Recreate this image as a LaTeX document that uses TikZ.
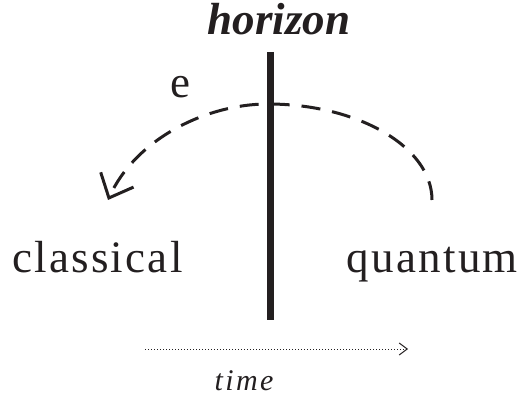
\documentclass[tikz,border=0pt]{standalone}
\usepackage{fontspec}
\setmainfont{Liberation Serif}
\newfontfamily\bigserif[LetterSpace=5]{Liberation Serif}
\newfontfamily\timefont[LetterSpace=8]{Liberation Serif}
\usetikzlibrary{arrows.meta}
\definecolor{ink}{RGB}{35,31,32}
\begin{document}
\begin{tikzpicture}[x=1pt,y=-1pt,
  lbl/.style={inner sep=0pt,text=ink,font=\bigserif\fontsize{45}{50}\selectfont},
  title/.style={inner sep=0pt,text=ink,font=\bfseries\itshape\fontsize{45}{50}\selectfont},
  timelbl/.style={inner sep=0pt,text=ink,font=\timefont\itshape\fontsize{30}{34}\selectfont},
  barline/.style={line width=7pt,draw=ink},
  pathline/.style={line width=3pt,draw=ink,dash pattern=on 19pt off 12pt,
    -{Straight Barb[length=20pt,width=36pt,line width=3pt]}},
  timeline/.style={line width=1pt,draw=ink,dash pattern=on 1pt off 2pt,
    -{Straight Barb[length=8pt,width=12pt,line width=1pt,sep=0pt]}}]
\useasboundingbox (0,0) rectangle (524,403);
\node[title,anchor=base] (hz) at (279,35) {horizon};
\node[lbl,anchor=base west] (cl) at (12,272) {classical};
\node[lbl,anchor=base east] (qu) at (518,272) {quantum};
\node[lbl,anchor=base] (e) at (180,98) {e};
\node[timelbl,anchor=base] (tm) at (244,390) {time};
\coordinate (bartop) at (270.5,52);
\coordinate (barbot) at (270.5,320);
\draw[barline] (bartop) -- (barbot);
\coordinate (qs) at (432,200);
\coordinate (tp) at (268,104);
\coordinate (ce) at (108,200);
\draw[pathline] (qs) .. controls (432,147) and (358,104) .. (tp)
  .. controls (205,104) and (135,140) .. (ce);
\coordinate (ts) at (145,349);
\coordinate (te) at (408,349);
\draw[timeline] (ts) -- (te);
\end{tikzpicture}
\end{document}
